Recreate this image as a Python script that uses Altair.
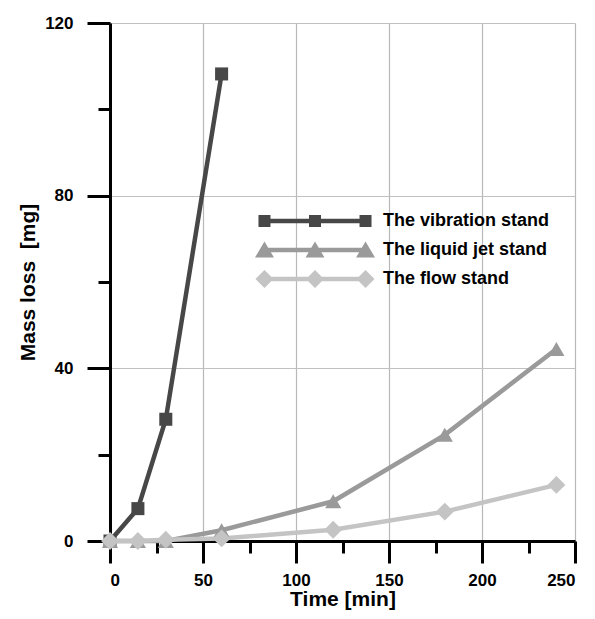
import altair as alt
import pandas as pd

series_names = ["The vibration stand", "The liquid jet stand", "The flow stand"]
series_colors = ["#474747", "#9a9a9a", "#c4c4c4"]
series_shapes = ["square", "triangle-up", "diamond"]
series_sizes = [170, 260, 320]

vib_time = [0, 15, 30, 60]
vib_mass = [0, 7.5, 28.2, 108.2]
jet_time = [0, 15, 30, 60, 120, 180, 240]
jet_mass = [0, 0, 0, 2.5, 9.2, 24.6, 44.5]
flow_time = [0, 15, 30, 60, 120, 180, 240]
flow_mass = [0, 0, 0.3, 0.6, 2.6, 6.8, 13.0]

x_major = [0, 50, 100, 150, 200, 250]
x_minor = [25, 75, 125, 175, 225]
y_major = [0, 40, 80, 120]
y_minor = [20, 60, 100]

rows = []
for name, t, m in zip(series_names, [vib_time, jet_time, flow_time], [vib_mass, jet_mass, flow_mass]):
    for ti, mi in zip(t, m):
        rows.append({"series": name, "time": ti, "mass": mi})
df = pd.DataFrame(rows)
df["idx"] = range(len(df))

FONT = "Liberation Sans"

# legend symbol paths (line with three markers) in the unit square, r = 60 px
def rect(x0, x1, y0, y1):
    return f"M{x0},{y0}L{x1},{y0}L{x1},{y1}L{x0},{y1}Z"

centers = [-0.842, 0, 0.842]
line_part = rect(-0.842, 0.842, -0.0375, 0.0375)
vib_path = line_part + "".join(rect(c - 0.1, c + 0.1, -0.1, 0.1) for c in centers)
jet_path = line_part + "".join(
    f"M{c},-0.142L{round(c + 0.158, 3)},0.125L{round(c - 0.158, 3)},0.125Z" for c in centers
)
flow_path = line_part + "".join(
    f"M{c},-0.15L{round(c + 0.15, 3)},0L{c},0.15L{round(c - 0.15, 3)},0Z" for c in centers
)
shape_expr = (
    f"datum.value === '{series_names[0]}' ? '{vib_path}' : "
    f"datum.value === '{series_names[1]}' ? '{jet_path}' : '{flow_path}'"
)

x_scale = alt.Scale(domain=[0, 250], nice=False)
y_scale = alt.Scale(domain=[0, 120], nice=False)

base = alt.Chart(df)

lines = base.mark_line(strokeWidth=4.5).encode(
    x=alt.X(
        "time:Q",
        scale=x_scale,
        axis=alt.Axis(
            orient="bottom",
            values=x_major,
            title="Time [min]",
            gridColor="#b8b8b8",
            tickSize=22,
            labelPadding=9,
            titlePadding=0,
        ),
    ),
    y=alt.Y(
        "mass:Q",
        scale=y_scale,
        axis=alt.Axis(
            orient="left",
            values=y_major,
            title="Mass loss\u00a0 [mg]",
            gridColor="#c0c0c0",
            tickSize=23,
            labelPadding=14,
            titlePadding=6,
        ),
    ),
    stroke=alt.Stroke(
        "series:N",
        scale=alt.Scale(domain=series_names, range=series_colors),
        sort=series_names,
        legend=alt.Legend(
            title=None,
            orient="none",
            legendX=145,
            legendY=188,
            padding=0,
            symbolSize=14400,
            clipHeight=20,
            labelOffset=8,
            rowPadding=9,
            labelFont=FONT,
            labelFontSize=18,
            labelFontWeight="bold",
            labelColor="black",
            labelLimit=300,
            symbolType={"expr": shape_expr},
            symbolFillColor={"expr": "scale('stroke', datum.value)"},
            symbolStrokeColor="transparent",
            symbolStrokeWidth=0,
            symbolOpacity=1,
        ),
    ),
    detail="series:N",
    order="idx:Q",
)

point_layers = []
for i, (name, color, shape, size) in enumerate(zip(series_names, series_colors, series_shapes, series_sizes)):
    if i == 0:
        x_axis = alt.Axis(
            orient="bottom", values=x_minor, title=None, labels=False,
            domain=False, gridColor="#d8d8d8", tickSize=12,
        )
        y_axis = alt.Axis(
            orient="left", values=y_minor, title=None, labels=False,
            domain=False, gridColor="#d0d0d0", tickSize=12,
        )
    else:
        x_axis = None
        y_axis = None
    layer = (
        base.transform_filter(alt.datum.series == name)
        .mark_point(filled=True, opacity=1, strokeWidth=0, shape=shape, size=size, color=color)
        .encode(
            x=alt.X("time:Q", scale=x_scale, axis=x_axis),
            y=alt.Y("mass:Q", scale=y_scale, axis=y_axis),
        )
    )
    point_layers.append(layer)

chart = (
    alt.layer(lines, *point_layers)
    .resolve_axis(x="independent", y="independent")
    .properties(
        width=465,
        height=518,
        autosize=alt.AutoSizeParams(type="none"),
        padding={"left": 102, "top": 15, "right": 12, "bottom": 70},
    )
    .configure_view(stroke=None)
    .configure_axis(
        domainColor="black",
        domainWidth=3,
        tickColor="black",
        tickWidth=3,
        gridWidth=1.2,
        labelFont=FONT,
        labelFontSize=17,
        labelFontWeight="bold",
        labelColor="black",
        titleFont=FONT,
        titleFontSize=21,
        titleFontWeight="bold",
        titleColor="black",
    )
)

chart.save("out.html", embed_options={"renderer": "svg", "actions": False})
